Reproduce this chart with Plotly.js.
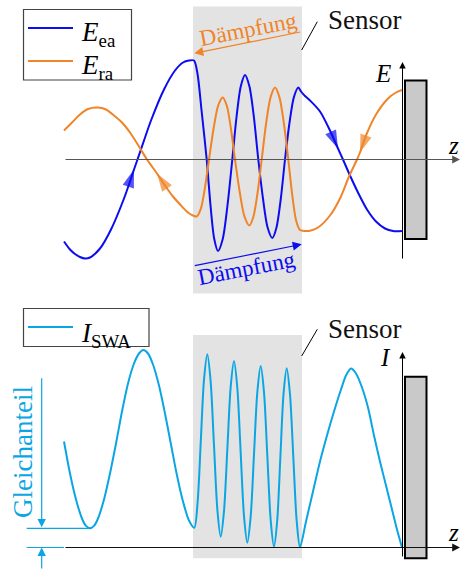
<!DOCTYPE html>
<html><head><meta charset="utf-8">
<script src="https://cdn.plot.ly/plotly-3.0.1.min.js"></script>
<style>html,body{margin:0;padding:0;background:#fff}#chart{width:461px;height:572px}</style>
</head><body><div id="chart"></div>
<script>
// ---- data (position z, field E, intensity I) ----
const zEa = [64,70,75,80,85,90,100,111,124,131,134,137.5,144,151,164,175,183,189,194,
  197.5,201.5,206.7,210.5,214.2,218,222.8,227.5,232.3,236.5,240.8,245,249.4,253.9,258.3,
  263,267.6,272.3,276.5,280.8,285,289.4,293.9,298.3,301,305,310,
  320,330,338,343,350,358,367,376,385,393,402];
const Eea = [-0.82,-0.90,-0.945,-0.975,-0.99,-0.98,-0.89,-0.70,-0.39,-0.19,-0.10,0,0.19,0.39,0.70,0.89,0.97,0.99,0.99,
  0.857,0.495,0,-0.4575,-0.792,-0.915,-0.792,-0.4575,0,0.4225,0.732,0.845,0.732,0.4225,0,
  -0.3925,-0.68,-0.785,-0.68,-0.3925,0,0.36,0.624,0.72,0.68,0.635,0.59,
  0.48,0.29,0.11,0,-0.16,-0.33,-0.50,-0.62,-0.69,-0.715,-0.715];

const zRa = [64,72,80,88,97.7,106,114,122,130,139,147,152,157,165,173,181,188,193,196.7,
  200.8,204.9,209,213.6,218.1,222.7,226.8,230.9,235,239.8,244.5,249.3,253.4,257.6,261.7,
  266.1,270.6,275,279.4,283.9,288.3,292.2,296.1,300,305,310,
  318,330,340,349,357,360,366,376,388,396,402];
const Era = [0.29,0.37,0.45,0.505,0.52,0.50,0.44,0.37,0.27,0.13,0,-0.07,-0.14,-0.26,-0.37,-0.46,-0.53,-0.56,-0.57,
  -0.494,-0.285,0,0.31,0.537,0.62,0.537,0.31,0,-0.33,-0.572,-0.66,-0.572,-0.33,0,
  0.36,0.624,0.72,0.624,0.36,0,-0.3525,-0.61,-0.705,-0.715,-0.712,
  -0.68,-0.56,-0.39,-0.17,0,0.07,0.24,0.45,0.61,0.67,0.695];

const zSwa = [64,70,76,82,86,90,94,98,104,110,116,122,128,134,139,143.3,148,153,159,165,171,177,183,189,194.3,
  197.6,200.8,204,207.3,210.6,214,217.4,220.7,224,227.35,230.7,234,237.3,240.65,244,247.3,
  250.65,254,257.35,260.7,264,267.35,270.7,274,277.2,280.35,283.5,286.7,290,293.35,296.7,300,
  306,313,320,327,334,341,346,351,356,362,368,374,380,386,392,397,402];
const Iswa = [0.53,0.37,0.24,0.145,0.108,0.096,0.108,0.145,0.24,0.37,0.52,0.68,0.82,0.92,0.97,0.987,0.97,0.915,0.81,0.67,0.515,0.36,0.23,0.135,0.099,
  0.226,0.532,0.839,0.966,0.833,0.51,0.187,0.054,0.182,0.493,0.804,0.9325,0.80,0.478,0.157,0.024,
  0.153,0.466,0.778,0.9075,0.776,0.456,0.136,0.004,0.134,0.45,0.766,0.896,0.765,0.448,0.132,0.001,
  0.13,0.28,0.43,0.56,0.68,0.79,0.86,0.895,0.87,0.80,0.70,0.56,0.43,0.31,0.19,0.09,0.0];

const gleichanteil = 0.096;   // DC level of I_SWA

// ---- styles ----
const BLUE = '#0c0cf0', ORANGE = '#f08428', CYAN = '#0aa6e3';
const FONT = 'Liberation Serif, Times New Roman, serif';

function curve(z, v, color, ya) {
  return {x: z, y: v, yaxis: ya, type: 'scatter', mode: 'lines',
    line: {color: color, width: 2, shape: 'spline', smoothing: 0.8},
    hoverinfo: 'skip', showlegend: false};
}
function headOn(z, v, fromZ, tipZ, color, ya) {
  const i = z.indexOf(fromZ), j = z.indexOf(tipZ);
  return {x: [z[i], z[j]], y: [v[i], v[j]], yaxis: ya, type: 'scatter', mode: 'markers',
    marker: {symbol: 'arrow', angleref: 'previous', size: [0, 19], color: color, line: {width: 0}},
    hoverinfo: 'skip', showlegend: false};
}

const data = [
  curve(zEa, Eea, BLUE, 'y'),
  curve(zRa, Era, ORANGE, 'y'),
  curve(zSwa, Iswa, CYAN, 'y2'),
  headOn(zEa, Eea, 131, 134, BLUE, 'y'),
  headOn(zEa, Eea, 330, 338, BLUE, 'y'),
  headOn(zRa, Era, 165, 157, ORANGE, 'y'),
  headOn(zRa, Era, 366, 360, ORANGE, 'y')
];

function line(x0, y0, x1, y1, yref, color, width) {
  return {type: 'line', xref: 'x', yref: yref, x0: x0, y0: y0, x1: x1, y1: y1,
    line: {color: color, width: width}};
}
const shapes = [
  {type: 'rect', xref: 'x', yref: 'y', x0: 193, x1: 302, y0: -1.34, y1: 1.53, fillcolor: '#e3e3e3', line: {width: 0}, layer: 'below'},
  {type: 'rect', xref: 'x', yref: 'y2', x0: 193, x1: 302, y0: -0.054, y1: 1.0625, fillcolor: '#e3e3e3', line: {width: 0}, layer: 'below'},
  {type: 'rect', xref: 'x', yref: 'y', x0: 405, x1: 426.5, y0: -0.795, y1: 0.79, fillcolor: '#c9c9c9', line: {color: '#000', width: 2}},
  {type: 'rect', xref: 'x', yref: 'y2', x0: 405, x1: 426.5, y0: -0.054, y1: 0.854, fillcolor: '#c9c9c9', line: {color: '#000', width: 2}},
  line(301.7, 1.095, 317.3, 1.378, 'y', '#000', 1),
  line(301.7, 0.9575, 317.3, 1.091, 'y2', '#000', 1),
  // legends
  {type: 'rect', xref: 'x', yref: 'y', x0: 23.5, x1: 131.5, y0: 0.795, y1: 1.5, fillcolor: '#fff', line: {color: '#444', width: 1.2}},
  line(28, 1.315, 73, 1.315, 'y', BLUE, 2),
  line(28, 0.985, 73, 0.985, 'y', ORANGE, 2),
  {type: 'rect', xref: 'x', yref: 'y2', x0: 23.5, x1: 149, y0: 1.005, y1: 1.195, fillcolor: '#fff', line: {color: '#444', width: 1.2}},
  line(28, 1.1025, 73, 1.1025, 'y2', CYAN, 2),
  // Gleichanteil guides
  line(26.7, gleichanteil, 90, gleichanteil, 'y2', CYAN, 1.2),
  line(26.7, 0, 64, 0, 'y2', CYAN, 1.2)
];

function arrow(x0, y0, x1, y1, yref, color, width, size) {
  return {x: x1, y: y1, ax: x0, ay: y0, xref: 'x', yref: yref, axref: 'x', ayref: yref,
    text: '', showarrow: true, arrowhead: 2, arrowsize: size, arrowwidth: width, arrowcolor: color, standoff: 0};
}
function label(x, y, yref, text, size, color, extra) {
  return Object.assign({x: x, y: y, xref: 'x', yref: yref, text: text, showarrow: false,
    font: {family: FONT, size: size, color: color}, xanchor: 'center', yanchor: 'middle'}, extra || {});
}
const annotations = [
  // axes
  arrow(64, 0, 460, 0, 'y', '#555', 1.2, 1.3),
  arrow(402.5, -1.005, 402.5, 0.975, 'y', '#000', 1, 1.3),
  arrow(64, 0, 460, 0, 'y2', '#111', 1.2, 1.3),
  arrow(402.5, -0.0525, 402.5, 0.9775, 'y2', '#000', 1, 1.3),
  // damping arrows
  arrow(301.7, 1.278, 194.3, 1.062, 'y', ORANGE, 1.2, 1.5),
  arrow(193.3, -1.065, 301.7, -0.848, 'y', BLUE, 1.2, 1.5),
  // Gleichanteil arrows
  arrow(41.7, 0.854, 41.7, gleichanteil + 0.005, 'y2', CYAN, 1.2, 1.4),
  arrow(41.7, -0.1125, 41.7, 0, 'y2', CYAN, 1.2, 1.4),
  // texts
  label(364.5, 1.395, 'y', 'Sensor', 27, '#111'),
  label(364.5, 1.0925, 'y2', 'Sensor', 27, '#111'),
  label(248, 1.30, 'y', 'Dämpfung', 23, ORANGE, {textangle: -11}),
  label(246, -1.085, 'y', 'Dämpfung', 23, BLUE, {textangle: -11}),
  label(383, 0.865, 'y', '<i>E</i>', 25, '#000'),
  label(453, 0.145, 'y', '<i>z</i>', 25, '#000'),
  label(385, 0.9525, 'y2', '<i>I</i>', 25, '#000'),
  label(453, 0.0775, 'y2', '<i>z</i>', 25, '#000'),
  label(79, 1.255, 'y', '<i>E</i><sub>ea</sub>', 27, '#000', {xanchor: 'left'}),
  label(79, 0.925, 'y', '<i>E</i><sub>ra</sub>', 27, '#000', {xanchor: 'left'}),
  label(79, 1.0625, 'y2', '<i>I</i><sub>SWA</sub>', 27, '#000', {xanchor: 'left'}),
  label(23, 0.4775, 'y2', 'Gleichanteil', 27, CYAN, {textangle: -90})
];

const layout = {
  width: 461, height: 572, margin: {l: 0, r: 0, t: 0, b: 0},
  paper_bgcolor: '#fff', plot_bgcolor: '#fff', showlegend: false,
  xaxis: {range: [0, 461], domain: [0, 1], visible: false, fixedrange: true},
  yaxis: {range: [-1.405, 1.595], domain: [272/572, 1], visible: false, fixedrange: true},
  yaxis2: {range: [-0.1225, 1.2375], domain: [0, 272/572], visible: false, fixedrange: true},
  shapes: shapes, annotations: annotations
};
Plotly.newPlot('chart', data, layout, {staticPlot: true, displayModeBar: false});
</script></body></html>
